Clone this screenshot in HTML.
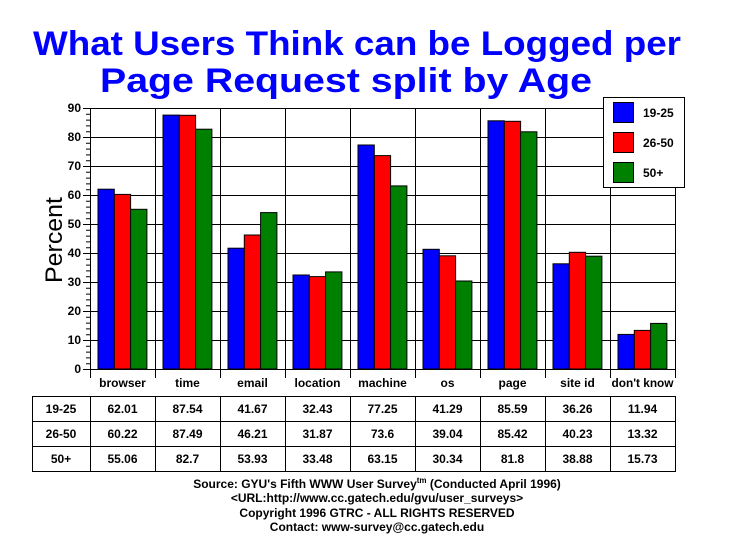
<!DOCTYPE html>
<html><head><meta charset="utf-8"><style>
html,body{margin:0;padding:0;background:#fff;}
svg{display:block;font-family:"Liberation Sans",Arial,sans-serif;}
</style></head><body>
<svg width="729" height="553" viewBox="0 0 729 553" xmlns="http://www.w3.org/2000/svg">
<rect width="729" height="553" fill="#fff"/>
<g fill="#0000ff" font-weight="bold" font-size="34" text-anchor="middle">
<text x="357" y="55" textLength="648" lengthAdjust="spacingAndGlyphs">What Users Think can be Logged per</text>
<text x="346" y="92" textLength="492" lengthAdjust="spacingAndGlyphs">Page Request split by Age</text>
</g>
<g stroke="#000" stroke-width="1">
<line x1="90" y1="340.5" x2="675" y2="340.5"/>
<line x1="90" y1="311.5" x2="675" y2="311.5"/>
<line x1="90" y1="282.5" x2="675" y2="282.5"/>
<line x1="90" y1="253.5" x2="675" y2="253.5"/>
<line x1="90" y1="224.5" x2="675" y2="224.5"/>
<line x1="90" y1="195.5" x2="675" y2="195.5"/>
<line x1="90" y1="166.5" x2="675" y2="166.5"/>
<line x1="90" y1="137.5" x2="675" y2="137.5"/>
<line x1="90" y1="108.5" x2="675" y2="108.5"/>
<line x1="90.5" y1="108" x2="90.5" y2="378"/>
<line x1="155.5" y1="108" x2="155.5" y2="378"/>
<line x1="220.5" y1="108" x2="220.5" y2="378"/>
<line x1="285.5" y1="108" x2="285.5" y2="378"/>
<line x1="350.5" y1="108" x2="350.5" y2="378"/>
<line x1="415.5" y1="108" x2="415.5" y2="378"/>
<line x1="480.5" y1="108" x2="480.5" y2="378"/>
<line x1="545.5" y1="108" x2="545.5" y2="378"/>
<line x1="610.5" y1="108" x2="610.5" y2="378"/>
<line x1="675.5" y1="108" x2="675.5" y2="378"/>
<line x1="90" y1="369.5" x2="675" y2="369.5"/>
<line x1="83" y1="369.5" x2="90" y2="369.5"/><line x1="83" y1="340.5" x2="90" y2="340.5"/><line x1="83" y1="311.5" x2="90" y2="311.5"/><line x1="83" y1="282.5" x2="90" y2="282.5"/><line x1="83" y1="253.5" x2="90" y2="253.5"/><line x1="83" y1="224.5" x2="90" y2="224.5"/><line x1="83" y1="195.5" x2="90" y2="195.5"/><line x1="83" y1="166.5" x2="90" y2="166.5"/><line x1="83" y1="137.5" x2="90" y2="137.5"/><line x1="83" y1="108.5" x2="90" y2="108.5"/>
</g>
<g stroke="#000" stroke-width="1">
<path d="M86 363.7H90M86 357.9H90M86 352.1H90M86 346.3H90M86 334.7H90M86 328.9H90M86 323.1H90M86 317.3H90M86 305.7H90M86 299.9H90M86 294.1H90M86 288.3H90M86 276.7H90M86 270.9H90M86 265.1H90M86 259.3H90M86 247.7H90M86 241.9H90M86 236.1H90M86 230.3H90M86 218.7H90M86 212.9H90M86 207.1H90M86 201.3H90M86 189.7H90M86 183.9H90M86 178.1H90M86 172.3H90M86 160.7H90M86 154.9H90M86 149.1H90M86 143.3H90M86 131.7H90M86 125.9H90M86 120.1H90M86 114.3H90"/>
</g>
<g font-size="12" font-weight="bold" text-anchor="end">
<text x="81" y="373">0</text><text x="81" y="344">10</text><text x="81" y="315">20</text><text x="81" y="286">30</text><text x="81" y="257">40</text><text x="81" y="228">50</text><text x="81" y="199">60</text><text x="81" y="170">70</text><text x="81" y="141">80</text><text x="81" y="112">90</text>
</g>
<text transform="translate(62,240) rotate(-90)" font-size="24" text-anchor="middle" textLength="86" lengthAdjust="spacingAndGlyphs">Percent</text>
<g stroke="#000" stroke-width="1">
<g fill="#0000ff">
<rect x="98" y="189.2" width="16.3" height="179.8"/>
<rect x="163" y="115.1" width="16.3" height="253.9"/>
<rect x="228" y="248.2" width="16.3" height="120.8"/>
<rect x="293" y="275" width="16.3" height="94"/>
<rect x="358" y="145" width="16.3" height="224"/>
<rect x="423" y="249.3" width="16.3" height="119.7"/>
<rect x="488" y="120.8" width="16.3" height="248.2"/>
<rect x="553" y="263.8" width="16.3" height="105.2"/>
<rect x="618" y="334.4" width="16.3" height="34.6"/>
</g>
<g fill="#ff0000">
<rect x="114.3" y="194.4" width="16.3" height="174.6"/>
<rect x="179.3" y="115.3" width="16.3" height="253.7"/>
<rect x="244.3" y="235" width="16.3" height="134"/>
<rect x="309.3" y="276.6" width="16.3" height="92.4"/>
<rect x="374.3" y="155.6" width="16.3" height="213.4"/>
<rect x="439.3" y="255.8" width="16.3" height="113.2"/>
<rect x="504.3" y="121.3" width="16.3" height="247.7"/>
<rect x="569.3" y="252.3" width="16.3" height="116.7"/>
<rect x="634.3" y="330.4" width="16.3" height="38.6"/>
</g>
<g fill="#008000">
<rect x="130.6" y="209.3" width="16.3" height="159.7"/>
<rect x="195.6" y="129.2" width="16.3" height="239.8"/>
<rect x="260.6" y="212.6" width="16.3" height="156.4"/>
<rect x="325.6" y="271.9" width="16.3" height="97.1"/>
<rect x="390.6" y="185.9" width="16.3" height="183.1"/>
<rect x="455.6" y="281" width="16.3" height="88"/>
<rect x="520.6" y="131.8" width="16.3" height="237.2"/>
<rect x="585.6" y="256.2" width="16.3" height="112.8"/>
<rect x="650.6" y="323.4" width="16.3" height="45.6"/>
</g>
</g>
<rect x="603.5" y="97.5" width="81" height="90" fill="#fff" stroke="#000"/>
<g stroke="#000">
<rect x="613.5" y="102.5" width="20" height="20" fill="#0000ff"/>
<rect x="613.5" y="132.5" width="20" height="20" fill="#ff0000"/>
<rect x="613.5" y="162.5" width="20" height="20" fill="#008000"/>
</g>
<g font-size="12" font-weight="bold">
<text x="643" y="117">19-25</text><text x="643" y="147">26-50</text><text x="643" y="177">50+</text>
</g>
<g font-size="12" font-weight="bold" text-anchor="middle">
<text x="122.5" y="387">browser</text><text x="187.5" y="387">time</text><text x="252.5" y="387">email</text><text x="317.5" y="387">location</text><text x="382.5" y="387">machine</text><text x="447.5" y="387">os</text><text x="512.5" y="387">page</text><text x="577.5" y="387">site id</text><text x="642.5" y="387" textLength="62" lengthAdjust="spacingAndGlyphs">don't know</text>
</g>
<g stroke="#000" fill="none">
<rect x="32.5" y="396.5" width="643" height="75"/>
<line x1="32" y1="421.5" x2="675" y2="421.5"/>
<line x1="32" y1="446.5" x2="675" y2="446.5"/>
<path d="M90.5 396V471M155.5 396V471M220.5 396V471M285.5 396V471M350.5 396V471M415.5 396V471M480.5 396V471M545.5 396V471M610.5 396V471"/>
</g>
<g font-size="12" font-weight="bold" text-anchor="middle">
<text x="61" y="413">19-25</text><text x="61" y="438">26-50</text><text x="61" y="463">50+</text>
<text x="122.5" y="413">62.01</text><text x="187.5" y="413">87.54</text><text x="252.5" y="413">41.67</text><text x="317.5" y="413">32.43</text><text x="382.5" y="413">77.25</text><text x="447.5" y="413">41.29</text><text x="512.5" y="413">85.59</text><text x="577.5" y="413">36.26</text><text x="642.5" y="413">11.94</text>
<text x="122.5" y="438">60.22</text><text x="187.5" y="438">87.49</text><text x="252.5" y="438">46.21</text><text x="317.5" y="438">31.87</text><text x="382.5" y="438">73.6</text><text x="447.5" y="438">39.04</text><text x="512.5" y="438">85.42</text><text x="577.5" y="438">40.23</text><text x="642.5" y="438">13.32</text>
<text x="122.5" y="463">55.06</text><text x="187.5" y="463">82.7</text><text x="252.5" y="463">53.93</text><text x="317.5" y="463">33.48</text><text x="382.5" y="463">63.15</text><text x="447.5" y="463">30.34</text><text x="512.5" y="463">81.8</text><text x="577.5" y="463">38.88</text><text x="642.5" y="463">15.73</text>
</g>
<g font-size="12" font-weight="bold" text-anchor="middle">
<text x="377" y="488">Source: GYU's Fifth WWW User Survey<tspan font-size="8" dy="-5">tm</tspan><tspan dy="5">  (Conducted April 1996)</tspan></text>
<text x="377" y="502">&lt;URL:http://www.cc.gatech.edu/gvu/user_surveys&gt;</text>
<text x="377" y="517">Copyright 1996 GTRC -  ALL RIGHTS RESERVED</text>
<text x="377" y="531">Contact: www-survey@cc.gatech.edu</text>
</g>
</svg>
</body></html>
